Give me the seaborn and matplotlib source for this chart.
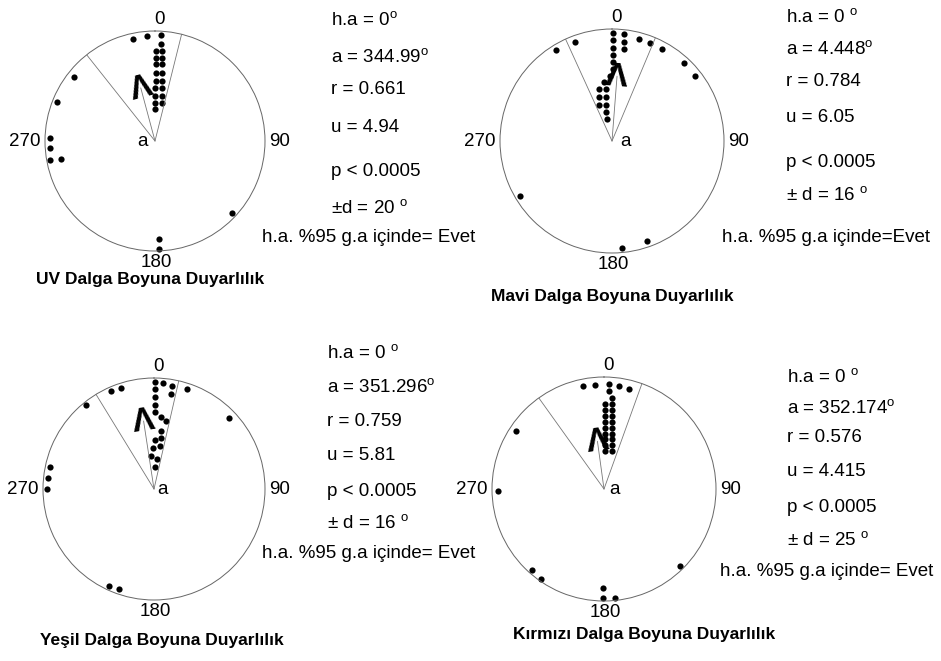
import numpy as np
import pandas as pd
import matplotlib
matplotlib.use("Agg")
import matplotlib.pyplot as plt
import seaborn as sns

sns.set_theme(style="white")
plt.rcParams["font.family"] = ["Liberation Sans", "DejaVu Sans"]
plt.rcParams["mathtext.fontset"] = "custom"
plt.rcParams["mathtext.rm"] = "Liberation Sans"
plt.rcParams["mathtext.it"] = "Liberation Sans"
plt.rcParams["text.color"] = "black"

# ---------------- data ----------------
titles = ["UV Dalga Boyuna Duyarlılık", "Mavi Dalga Boyuna Duyarlılık",
          "Yeşil Dalga Boyuna Duyarlılık", "Kırmızı Dalga Boyuna Duyarlılık"]

# observations: angle (deg, clockwise from north) and radial stack position (fraction of circle)
ang1 = [347.8, 355.6, 3.2, 3.5, 0.5, 0.5, 0.5, 0.5, 0.5, 0.5, 0.5, 0.5, 0.5,
        4.4, 4.8, 5.2, 5.9, 6.7, 7.5, 8.8, 10.4, 308.3, 291.7, 271.6, 266.2,
        259.7, 259.2, 133.1, 177.7, 177.9]
rad1 = [0.95, 0.96, 0.965, 0.88, 0.82, 0.755, 0.70, 0.62, 0.545, 0.48, 0.41, 0.345, 0.29,
        0.82, 0.76, 0.70, 0.62, 0.55, 0.49, 0.41, 0.35, 0.94, 0.96, 0.955, 0.96,
        0.97, 0.87, 0.96, 0.89, 0.98]
ang2 = [0.5, 0.5, 0.5, 0.5, 0.5, 0.5, 358.2, 352.3, 346.0, 353.4, 343.5, 352.2,
        340.1, 350.5, 348.3, 347.2, 6.4, 6.9, 7.4, 14.8, 21.0, 28.5, 42.7, 51.9,
        339.5, 328.4, 239.1, 174.8, 160.8]
rad2 = [0.96, 0.90, 0.83, 0.77, 0.705, 0.64, 0.58, 0.53, 0.48, 0.47, 0.41, 0.40,
        0.34, 0.33, 0.26, 0.20, 0.96, 0.89, 0.83, 0.94, 0.94, 0.935, 0.95, 0.94,
        0.94, 0.955, 0.96, 0.96, 0.95]
ang3 = [0.7, 0.7, 0.7, 0.7, 0.7, 4.9, 9.9, 10.3, 18.1, 46.3, 336.5, 342.2, 320.9,
        282.0, 276.0, 270.0, 204.9, 199.1, 5.8, 10.4, 6.6, 0.8, 7.5, 358.6, 7.6,
        354.2, 6.4, 3.4]
rad3 = [0.967, 0.90, 0.826, 0.757, 0.69, 0.96, 0.945, 0.87, 0.95, 0.93, 0.965, 0.96, 0.97,
        0.96, 0.96, 0.96, 0.96, 0.95, 0.65, 0.62, 0.53, 0.44, 0.46, 0.37, 0.39,
        0.30, 0.27, 0.20]
ang4 = [348.5, 354.9, 2.7, 8.1, 13.9, 2.9, 5.0, 5.4, 5.8, 6.3, 6.8, 7.5, 8.3, 9.1,
        10.3, 11.9, 1.0, 1.0, 1.0, 1.0, 1.0, 1.0, 1.0, 1.0, 1.0, 303.5, 268.9,
        221.8, 214.8, 180.6, 180.5, 174.4, 135.5]
rad4 = [0.94, 0.93, 0.94, 0.93, 0.92, 0.875, 0.815, 0.76, 0.71, 0.655, 0.60, 0.55, 0.50,
        0.45, 0.40, 0.35, 0.76, 0.705, 0.65, 0.60, 0.545, 0.49, 0.445, 0.39, 0.34,
        0.94, 0.95, 0.97, 0.98, 0.88, 0.97, 0.975, 0.965]

angles = [ang1, ang2, ang3, ang4]
radii = [rad1, rad2, rad3, rad4]

# statistics
ha_val = ["0", "0", "0", "0"]
mean_angle = ["344.99", "4.448", "351.296", "352.174"]
r_val = ["0.661", "0.784", "0.759", "0.576"]
u_val = ["4.94", "6.05", "5.81", "4.415"]
p_val = ["0.0005", "0.0005", "0.0005", "0.0005"]
d_val = ["20", "16", "16", "25"]
verdict = ["Evet", "Evet", "Evet", "Evet"]

mean_deg = [344.99, 4.448, 351.296, 352.174]
mean_len_drawn = [0.58, 0.66, 0.70, 0.51]
ci_lo = [321.6, 335.5, 328.5, 324.4]
ci_hi = [14.0, 22.8, 12.9, 19.8]

# ---------------- layout ----------------
W, H = 941, 661
fig = plt.figure(figsize=(W / 100, H / 100), dpi=100)
fig.patch.set_facecolor("white")

centers = [(155, 141, 110), (612, 141, 112), (154, 489, 111), (604, 489, 112)]
a_dx = [-12, 14, 8, 10]
text_x = [331, 786, 327, 787]
text_y = [[20, 57, 90, 128, 172, 208], [17.5, 49, 82, 118, 162.5, 195],
          [353, 387, 422, 455, 492, 523], [377, 408, 437, 472, 508, 540]]
last_xy = [(262, 238), (722, 238), (262, 553), (720, 572)]
title_xy = [(150, 280), (612, 297), (162, 641), (644, 634)]
pm_sep = ["", " ", " ", " "]
ev_sep = [" ", "", " ", " "]
ha_sep = ["", " ", " ", " "]

deg = r"$^{\mathrm{o}}$"
fs = 13.5

for i in range(4):
    cx, cy, R = centers[i]
    ax = fig.add_axes([(cx - R) / W, 1 - (cy + R) / H, 2 * R / W, 2 * R / H],
                      projection="polar")
    ax.set_theta_zero_location("N")
    ax.set_theta_direction(-1)
    ax.set_ylim(0, 1)
    ax.set_xticks([])
    ax.set_yticks([])
    ax.grid(False)
    ax.set_facecolor("none")
    ax.spines["polar"].set_linewidth(0.7)
    ax.spines["polar"].set_color("#666666")

    df = pd.DataFrame({"theta": np.deg2rad(angles[i]), "r": radii[i]})
    sns.scatterplot(data=df, x="theta", y="r", ax=ax, color="black", s=20,
                    linewidth=0, legend=False, clip_on=False)
    ax.set_xlabel("")
    ax.set_ylabel("")

    # confidence wedge
    for t in (ci_lo[i], ci_hi[i]):
        ax.plot([np.deg2rad(t)] * 2, [0, 1], color="#777777", lw=0.6)
    # mean vector
    th = np.deg2rad(mean_deg[i])
    ax.plot([th, th], [0, mean_len_drawn[i] - 0.08], color="#777777", lw=0.6)
    ax.text(th, mean_len_drawn[i] + 0.05, "Λ", fontsize=24, fontweight="bold",
            ha="center", va="top", rotation=(360 - mean_deg[i]) % 360,
            rotation_mode="anchor", color="black")
    ax.annotate("a", (0, 0), xytext=(a_dx[i] * 0.72, 0), textcoords="offset points",
                ha="center", va="center", fontsize=fs, color="black")

    # cardinal labels
    ax.annotate("0", (0, 1), xytext=(3, 2), textcoords="offset points",
                ha="center", va="bottom", fontsize=fs, annotation_clip=False)
    ax.annotate("90", (np.pi / 2, 1), xytext=(3, 0), textcoords="offset points",
                ha="left", va="center", fontsize=fs, annotation_clip=False)
    ax.annotate("180", (np.pi, 1), xytext=(1, -2), textcoords="offset points",
                ha="center", va="top", fontsize=fs, annotation_clip=False)
    ax.annotate("270", (1.5 * np.pi, 1), xytext=(-3, 0), textcoords="offset points",
                ha="right", va="center", fontsize=fs, annotation_clip=False)

    lines = [f"h.a = {ha_val[i]}{ha_sep[i]}{deg}",
             f"a = {mean_angle[i]}{deg}",
             f"r = {r_val[i]}",
             f"u = {u_val[i]}",
             f"p < {p_val[i]}",
             f"±{pm_sep[i]}d = {d_val[i]} {deg}"]
    for s, y in zip(lines, text_y[i]):
        fig.text(text_x[i] / W, 1 - y / H, s, fontsize=fs, ha="left", va="center")
    lx, ly = last_xy[i]
    fig.text(lx / W, 1 - ly / H, f"h.a. %95 g.a içinde={ev_sep[i]}{verdict[i]}",
             fontsize=fs, ha="left", va="center")
    tx, ty = title_xy[i]
    fig.text(tx / W, 1 - ty / H, titles[i], fontsize=12.5, fontweight="bold",
             ha="center", va="center")

fig.savefig("out.png", dpi=100, facecolor="white")
